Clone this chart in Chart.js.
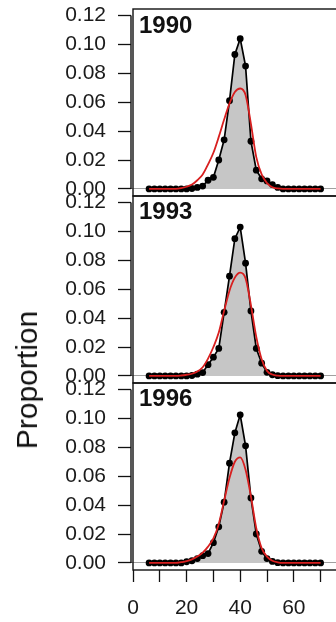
<!DOCTYPE html>
<html><head><meta charset="utf-8">
<script src="https://cdn.jsdelivr.net/npm/chart.js@4.4.1/dist/chart.umd.min.js"></script>
<style>
html,body{margin:0;padding:0;width:336px;height:622px;overflow:hidden;background:#fff;position:relative}
canvas{position:absolute;left:0;top:0}
.yr{position:absolute;left:139px;font:bold 24px "Liberation Sans",Arial,sans-serif;line-height:24px;color:#111;white-space:nowrap}
#ylab{position:absolute;left:27px;top:380px;font:30px "Liberation Sans",Arial,sans-serif;line-height:30px;color:#111;white-space:nowrap;transform:translate(-50%,-50%) rotate(-90deg)}
</style></head><body>
<canvas id="c0" width="400" height="622"></canvas>
<canvas id="c1" width="400" height="622"></canvas>
<canvas id="c2" width="400" height="622"></canvas>
<div class="yr" id="t0" style="top:12.7px">1990</div>
<div class="yr" id="t1" style="top:198.7px">1993</div>
<div class="yr" id="t2" style="top:386.4px">1996</div>
<div id="ylab">Proportion</div>
<script>
// ---- data ----
const ages = [6,8,10,12,14,16,18,20,22,24,26,28,30,32,34,36,38,40,42,44,46,48,50,52,54,56,58,60,62,64,66,68,70];
const years = ["1990","1993","1996"];
const obs1990 = [0,0,0,0,0,0,0,0,0.0003,0.001,0.002,0.006,0.008,0.020,0.034,0.061,0.093,0.104,0.085,0.033,0.013,0.007,0.0055,0.003,0.001,0,0,0,0,0,0,0,0];
const fit1990 = [0,0,0,0,0,0,0.0005,0.0015,0.003,0.006,0.010,0.017,0.025,0.036,0.048,0.059,0.067,0.0695,0.065,0.045,0.022,0.010,0.004,0.0012,0.0003,0,0,0,0,0,0,0,0];
const obs1993 = [0,0,0,0,0,0,0,0,0.0003,0.0012,0.0023,0.0078,0.013,0.019,0.044,0.069,0.095,0.103,0.078,0.045,0.019,0.0088,0.0025,0.0008,0.0002,0,0,0,0,0,0,0,0];
const fit1993 = [0,0,0,0,0,0,0.0003,0.0008,0.0015,0.003,0.006,0.012,0.020,0.030,0.045,0.059,0.068,0.0715,0.0675,0.049,0.027,0.0116,0.0035,0.001,0.0002,0,0,0,0,0,0,0,0];
const obs1996 = [0,0,0,0,0,0,0,0.0008,0.0015,0.003,0.005,0.0065,0.014,0.025,0.042,0.069,0.090,0.1025,0.081,0.045,0.020,0.008,0.003,0.001,0.0002,0,0,0,0,0,0,0,0];
const fit1996 = [0,0,0,0,0,0,0.0005,0.0012,0.0025,0.0044,0.0071,0.0113,0.017,0.027,0.043,0.0587,0.070,0.073,0.0645,0.046,0.024,0.0102,0.0044,0.0015,0.0004,0,0,0,0,0,0,0,0];
const yTicks = [0,0.02,0.04,0.06,0.08,0.10,0.12];
const yTickLabels = ["0.00","0.02","0.04","0.06","0.08","0.10","0.12"];
const xTicks = [0,10,20,30,40,50,60,70];
const xTickLabels = ["0","","20","","40","","60",""];

// ---- layout ----
const panels = [
  {id:"c0", obs:obs1990, fit:fit1990, top:9,   bottom:196, showX:false},
  {id:"c1", obs:obs1993, fit:fit1993, top:196, bottom:383, showX:false},
  {id:"c2", obs:obs1996, fit:fit1996, top:383, bottom:570, showX:true}
];
const FONT = "'Liberation Sans', Arial, sans-serif";

const framePlugin = {
  id:'frame',
  afterDatasetsDraw(chart){
    const {ctx, chartArea:a} = chart; const y = chart.scales.y;
    ctx.save();
    ctx.strokeStyle = '#111'; ctx.lineWidth = 1.4;
    ctx.strokeRect(a.left+2, a.top, a.right-a.left, a.bottom-a.top);
    ctx.beginPath();
    ctx.moveTo(a.left, y.getPixelForValue(yTicks[0]));
    ctx.lineTo(a.left, y.getPixelForValue(yTicks[yTicks.length-1]));
    ctx.stroke();
    ctx.restore();
  }
};

panels.forEach(p => {
  const toXY = arr => arr.map((v,i)=>({x:ages[i], y:v}));
  new Chart(document.getElementById(p.id), {
    type:'line',
    data:{ datasets:[
      {data: toXY(p.fit), borderColor:'#d81f1f', borderWidth:1.8, pointRadius:0, cubicInterpolationMode:'monotone', fill:false},
      {data: toXY(p.obs), borderColor:'#000', borderWidth:1.7, pointRadius:3.4, pointBackgroundColor:'#000', pointBorderWidth:0, tension:0, fill:'origin', backgroundColor:'#c6c6c6'}
    ]},
    options:{
      responsive:false, animation:false, devicePixelRatio:1,
      layout:{padding:{top:p.top, bottom:p.showX?0:622-p.bottom, left:0, right:40}},
      plugins:{legend:{display:false}, tooltip:{enabled:false}},
      scales:{
        x:{type:'linear', min:-0.75, max:84.7, display:p.showX,
           afterBuildTicks:s=>{s.ticks = xTicks.map(v=>({value:v}));},
           afterFit:s=>{ if(p.showX){s.height=52;} s.paddingLeft=0; s.paddingRight=0;},
           grid:{drawOnChartArea:false, drawTicks:true, tickLength:12, tickColor:'#111', tickWidth:1.3},
           border:{display:false},
           ticks:{autoSkip:false, maxRotation:0, padding:14, color:'#1a1a1a', font:{family:FONT, size:21},
                  callback:(v)=>{const i=xTicks.indexOf(v); return i>=0?xTickLabels[i]:'';}}
        },
        y:{type:'linear', min:-0.0049, max:0.1245,
           afterBuildTicks:s=>{s.ticks = yTicks.map(v=>({value:v}));},
           afterFit:s=>{s.width=131; s.paddingTop=0; s.paddingBottom=0;},
           grid:{drawOnChartArea:true, drawTicks:true, tickLength:13, tickColor:'#111', tickWidth:1.3, lineWidth:1,
                 color:c=> (c.tick && c.tick.value===0) ? '#a0a0a0' : 'rgba(0,0,0,0)'},
           border:{display:false},
           ticks:{autoSkip:false, padding:12, color:'#1a1a1a', font:{family:FONT, size:21},
                  callback:(v)=>{const i=yTicks.indexOf(v); return i>=0?yTickLabels[i]:'';}}
        }
      }
    },
    plugins:[framePlugin]
  });
});
</script>
</body></html>
